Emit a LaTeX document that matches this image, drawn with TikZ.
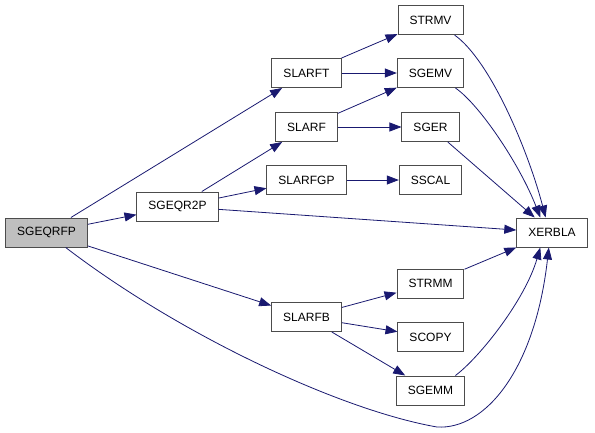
\documentclass[tikz,border=0pt]{standalone}
\usepackage{fontspec}
\setmainfont{Liberation Sans}
\usepackage{xcolor}
\usetikzlibrary{shapes,arrows.meta,positioning}
\definecolor{edgeblue}{HTML}{191970}

\begin{document}
\begin{tikzpicture}[
        x=1pt, y=-1pt, on grid,
        block/.style={rectangle, draw=black!70, fill=white, line width=1pt, minimum height=29pt, inner xsep=11.5pt, font=\fontsize{12}{14}\selectfont},
        root/.style={block, fill=black!25},
        line/.style={draw=edgeblue, ->, line width=0.8pt},
        >={Triangle[length=12pt, width=9pt]}
    ]
        \useasboundingbox (0,0) rectangle (595,432);

        % Caller
        \node[root] (sgeqrfp) at (46.5,232.5) {SGEQRFP};
        \node[block] (sgeqr2p) [above right=26pt and 131pt of sgeqrfp] {SGEQR2P};

        % Middle column
        \node[block] (slarfgp) [above right=26.5pt and 129pt of sgeqr2p] {SLARFGP};
        \node[block] (slarf) [above=53pt of slarfgp] {SLARF};
        \node[block] (slarft) [above=54pt of slarf] {SLARFT};
        \node[block] (slarfb) [below=137pt of slarfgp] {SLARFB};

        % BLAS column
        \node[block] (sgemv) [right=124pt of slarft] {SGEMV};
        \node[block] (strmv) [above=53pt of sgemv] {STRMV};
        \node[block] (sger) [right=124pt of slarf] {SGER};
        \node[block] (sscal) [right=124pt of slarfgp] {SSCAL};
        \node[block] (strmm) [above right=33.5pt and 124pt of slarfb] {STRMM};
        \node[block] (scopy) [below right=20pt and 124pt of slarfb] {SCOPY};
        \node[block] (sgemm) [below right=73.5pt and 124pt of slarfb] {SGEMM};

        % Error handler
        \node[block] (xerbla) [right=505.5pt of sgeqrfp] {XERBLA};

        % Connections
        \draw[line] (sgeqrfp) -- (sgeqr2p);
        \draw[line] (sgeqrfp) -- (slarft);
        \draw[line] (sgeqrfp) -- (slarfb);
        \draw[line] (sgeqrfp.-38) .. controls (180,335) and (340,410) .. (437,427)
            .. controls (485,430) and (535,370) .. (xerbla.-102);
        \draw[line] (sgeqr2p) -- (slarf);
        \draw[line] (sgeqr2p) -- (slarfgp);
        \draw[line] (sgeqr2p) -- (xerbla);
        \draw[line] (slarft) -- (strmv);
        \draw[line] (slarft) -- (sgemv);
        \draw[line] (slarf) -- (sgemv);
        \draw[line] (slarf) -- (sger);
        \draw[line] (slarfgp) -- (sscal);
        \draw[line] (slarfb) -- (strmm);
        \draw[line] (slarfb) -- (scopy);
        \draw[line] (slarfb) -- (sgemm);
        \draw[line] (strmv.-32) .. controls (490,60) and (528,150) .. (xerbla.113);
        \draw[line] (sgemv.-31) .. controls (480,105) and (520,165) .. (xerbla.128);
        \draw[line] (sger) -- (xerbla);
        \draw[line] (strmm) -- (xerbla);
        \draw[line] (sgemm.31) .. controls (480,357) and (525,300) .. (xerbla.-128);
    \end{tikzpicture}
\end{document}
